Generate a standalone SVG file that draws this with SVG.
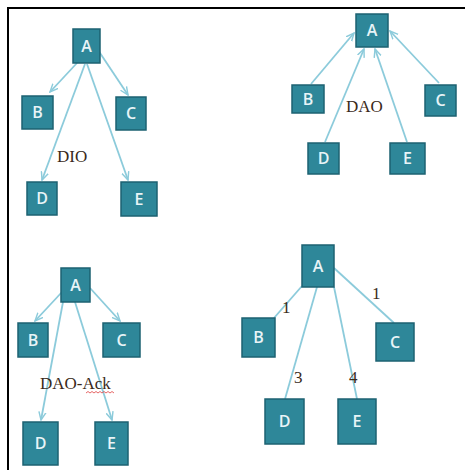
<svg xmlns="http://www.w3.org/2000/svg" width="465" height="470" viewBox="0 0 465 470">
<defs>
<style>
.n rect{fill:#2e8799;stroke:#1d6272;stroke-width:1.5}
.n text{fill:#e8f4f7;font-family:"Open Sans","Liberation Sans",sans-serif;font-size:16px;font-weight:600;text-anchor:middle}
.e line{stroke:#8ccbdb;stroke-width:1.8}
.a line{marker-end:url(#ah)}
.lbl{font-family:"Liberation Serif",serif;font-size:17px;fill:#3a2a1a}
</style>
<marker id="ah" viewBox="0 0 10 10" refX="9" refY="5" markerWidth="5" markerHeight="5" orient="auto">
<path d="M0,1 L9,5 L0,9" fill="none" stroke="#8ccbdb" stroke-width="1.6"/>
</marker>
</defs>
<rect width="465" height="470" fill="#fff"/>
<path d="M8,470 V8 H465" fill="none" stroke="#000" stroke-width="2"/>

<g id="connectors">
<g class="e a">
<line x1="77" y1="63" x2="50" y2="92"/>
<line x1="98" y1="50" x2="128" y2="95"/>
<line x1="85" y1="64" x2="42" y2="180"/>
<line x1="87" y1="64" x2="128" y2="180"/>
<line x1="311" y1="84" x2="354" y2="33"/>
<line x1="325" y1="142" x2="364" y2="49"/>
<line x1="407" y1="142" x2="375" y2="49"/>
<line x1="439" y1="83" x2="390" y2="31"/>
<line x1="62" y1="292" x2="35" y2="321"/>
<line x1="90" y1="288" x2="120" y2="321"/>
<line x1="63" y1="302" x2="41" y2="420"/>
<line x1="75" y1="302" x2="112" y2="420"/>
</g>
<g class="e">
<line x1="302" y1="286" x2="274" y2="318"/>
<line x1="334" y1="268" x2="394" y2="323"/>
<line x1="317" y1="287" x2="285" y2="399"/>
<line x1="334" y1="287" x2="357" y2="399"/>
</g>
</g>

<g id="p1-A" class="n"><rect x="73" y="29" width="27" height="34"/><text x="86.5" y="52">A</text></g>
<g id="p1-B" class="n"><rect x="22" y="96" width="31" height="33"/><text x="37.5" y="118">B</text></g>
<g id="p1-C" class="n"><rect x="116" y="97" width="30" height="33"/><text x="131" y="119">C</text></g>
<g id="p1-D" class="n"><rect x="27" y="182" width="30" height="33"/><text x="42" y="204">D</text></g>
<g id="p1-E" class="n"><rect x="121" y="182" width="36" height="34"/><text x="139" y="205">E</text></g>
<text class="lbl" x="57" y="162">DIO</text>

<g id="p2-A" class="n"><rect x="356" y="14" width="32" height="33"/><text x="372" y="36">A</text></g>
<g id="p2-B" class="n"><rect x="292" y="85" width="32" height="28"/><text x="308" y="105">B</text></g>
<g id="p2-C" class="n"><rect x="425" y="85" width="31" height="31"/><text x="440.5" y="106">C</text></g>
<g id="p2-D" class="n"><rect x="308" y="143" width="31" height="31"/><text x="323.5" y="164">D</text></g>
<g id="p2-E" class="n"><rect x="390" y="143" width="35" height="31"/><text x="407.5" y="164">E</text></g>
<text class="lbl" x="346" y="112">DAO</text>

<g id="p3-A" class="n"><rect x="61" y="268" width="29" height="34"/><text x="75.5" y="291">A</text></g>
<g id="p3-B" class="n"><rect x="18" y="323" width="30" height="34"/><text x="33" y="346">B</text></g>
<g id="p3-C" class="n"><rect x="103" y="323" width="37" height="34"/><text x="121.5" y="346">C</text></g>
<g id="p3-D" class="n"><rect x="23" y="422" width="35" height="43"/><text x="40.5" y="449">D</text></g>
<g id="p3-E" class="n"><rect x="95" y="422" width="33" height="43"/><text x="111.5" y="449">E</text></g>
<text class="lbl" x="40" y="389">DAO-Ack</text>
<path d="M86,393 l2,-1.5 l2,1.5 l2,-1.5 l2,1.5 l2,-1.5 l2,1.5 l2,-1.5 l2,1.5 l2,-1.5 l2,1.5 l2,-1.5 l2,1.5 l2,-1.5 l2,1.5" fill="none" stroke="#e04040" stroke-width="0.8"/>

<g id="p4-A" class="n"><rect x="302" y="245" width="32" height="42"/><text x="318" y="272">A</text></g>
<g id="p4-B" class="n"><rect x="242" y="318" width="33" height="39"/><text x="258.5" y="343">B</text></g>
<g id="p4-C" class="n"><rect x="376" y="323" width="38" height="38"/><text x="395" y="348">C</text></g>
<g id="p4-D" class="n"><rect x="265" y="399" width="39" height="45"/><text x="284.5" y="427">D</text></g>
<g id="p4-E" class="n"><rect x="338" y="399" width="38" height="45"/><text x="357" y="427">E</text></g>
<text class="lbl" x="282" y="313">1</text>
<text class="lbl" x="372" y="299">1</text>
<text class="lbl" x="294" y="383">3</text>
<text class="lbl" x="349" y="383">4</text>
</svg>
